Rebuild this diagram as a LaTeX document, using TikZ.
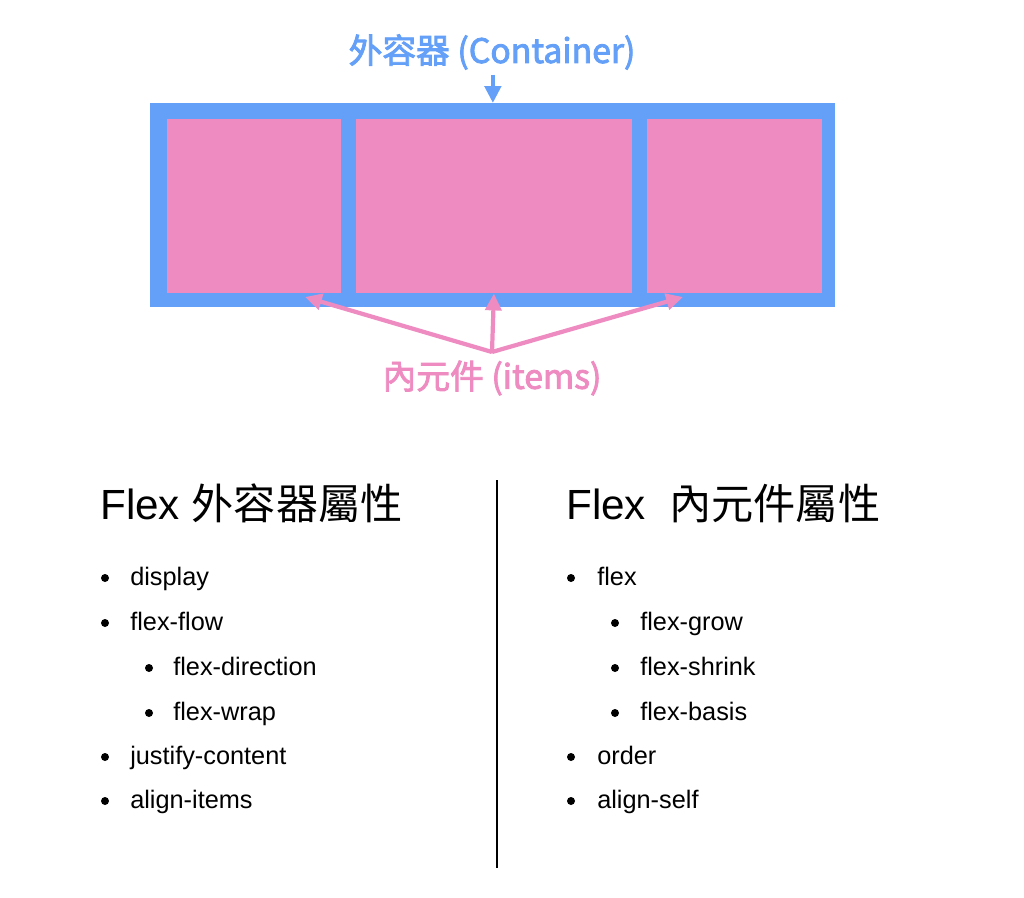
\documentclass[tikz,border=0pt]{standalone}
\usepackage{fontspec}
\setmainfont{Liberation Sans}
\newfontfamily\cjk{Noto Sans CJK TC}
\newfontfamily\tagfont[FakeBold=2.5]{Noto Sans CJK TC}
\usetikzlibrary{arrows.meta, positioning}
\definecolor{cblue}{HTML}{64A0F7}
\definecolor{cpink}{HTML}{EE8BC1}
\tikzset{
  box/.style={fill=cblue, inner sep=0pt, minimum width=17.125cm, minimum height=5.1cm},
  item/.style={fill=cpink, inner sep=0pt, minimum width=#1, minimum height=4.35cm},
  tag/.style={font=\tagfont\fontsize{24}{28}\selectfont, text=#1, inner sep=0pt},
  arrow/.style={-{Triangle[length=4.2mm, width=4mm]}, draw=#1, line width=3pt},
  heading/.style={font=\fontsize{30}{36}\selectfont, anchor=base west, inner sep=0pt},
  entry/.style={font=\fontsize{18}{22}\selectfont, anchor=base west, inner sep=0pt},
  dot/.style={circle, fill=black, inner sep=0pt, minimum size=0.2cm},
}
\begin{document}
\begin{tikzpicture}[x=0.025cm, y=-0.025cm]
  \useasboundingbox (0,0) rectangle (1024,898);
  % the container and its three items
  \node[box, anchor=north west] (box) at (150,103) {};
  \node[item=4.35cm, anchor=north west] (item1) at (167,119) {};
  \node[item=6.9cm, right=0.35cm of item1] (item2) {};
  \node[item=4.375cm, right=0.35cm of item2] (item3) {};
  \node[tag=cblue] (outer) at (492,52) {外容器 (Container)};
  \draw[arrow=cblue, shorten <=0.12cm] (box.north |- outer.south) -- (box.north);
  \node[tag=cpink] (inner) at (492,378) {內元件 (items)};
  \coordinate (apex) at (492,352);
  \coordinate (lt) at (305,297);
  \coordinate (rt) at (683,297);
  \draw[arrow=cpink] (apex) -- (item2.south);
  \draw[arrow=cpink] (apex) -- (lt);
  \draw[arrow=cpink] (apex) -- (rt);
  % divider
  \draw[line width=1.3pt] (497,480) -- (497,868);
  % container properties
  \node[heading] (lhead) at (100,519) {Flex {\cjk 外容器屬性}};
  \node[dot] (ld1) at (105,578) {};
  \node[entry] (l1) at (130,585) {display};
  \node[dot] (ld2) at (105,623) {};
  \node[entry] (l2) at (130,630) {flex-flow};
  \node[dot] (ld3) at (149,668) {};
  \node[entry] (l3) at (173,675) {flex-direction};
  \node[dot] (ld4) at (149,713) {};
  \node[entry] (l4) at (173,720) {flex-wrap};
  \node[dot] (ld5) at (105,757) {};
  \node[entry] (l5) at (130,764) {justify-content};
  \node[dot] (ld6) at (105,801) {};
  \node[entry] (l6) at (130,808) {align-items};
  % item properties
  \node[heading] (rhead) at (566,519) {Flex\ \ {\cjk 內元件屬性}};
  \node[dot] (rd1) at (571,578) {};
  \node[entry] (r1) at (597,585) {flex};
  \node[dot] (rd2) at (615,623) {};
  \node[entry] (r2) at (640,630) {flex-grow};
  \node[dot] (rd3) at (615,668) {};
  \node[entry] (r3) at (640,675) {flex-shrink};
  \node[dot] (rd4) at (615,713) {};
  \node[entry] (r4) at (640,720) {flex-basis};
  \node[dot] (rd5) at (571,757) {};
  \node[entry] (r5) at (597,764) {order};
  \node[dot] (rd6) at (571,801) {};
  \node[entry] (r6) at (597,808) {align-self};
\end{tikzpicture}
\end{document}
